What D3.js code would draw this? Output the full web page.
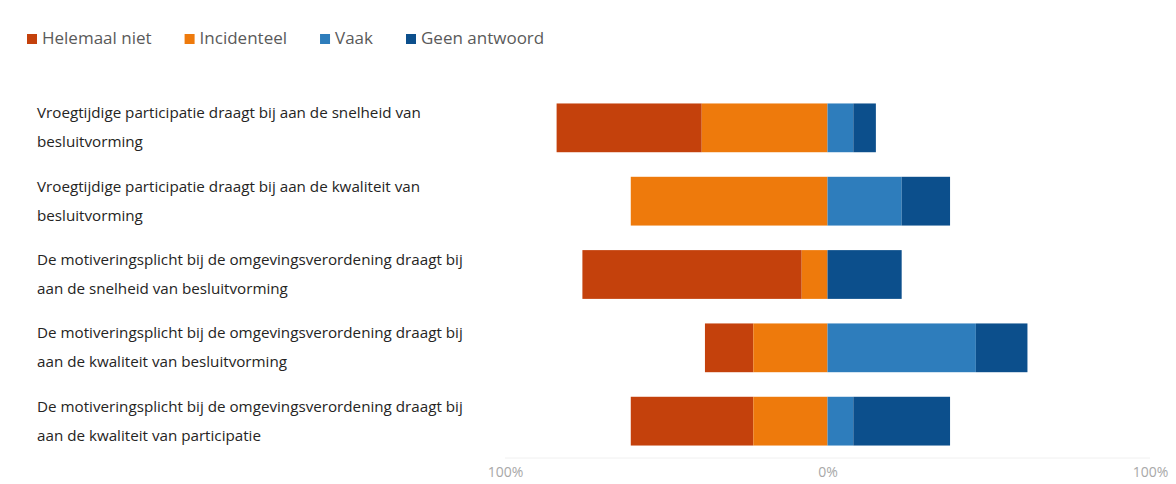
<!DOCTYPE html>
<html><head><meta charset="utf-8">
<script src="https://cdn.jsdelivr.net/npm/d3@7"></script>
<style>body{margin:0;background:#fff;}svg{display:block;font-family:"Open Sans",sans-serif;}</style>
</head><body><svg id="c" width="1176" height="484"></svg>
<script>
const categories = [
  "Vroegtijdige participatie draagt bij aan de snelheid van besluitvorming",
  "Vroegtijdige participatie draagt bij aan de kwaliteit van besluitvorming",
  "De motiveringsplicht bij de omgevingsverordening draagt bij aan de snelheid van besluitvorming",
  "De motiveringsplicht bij de omgevingsverordening draagt bij aan de kwaliteit van besluitvorming",
  "De motiveringsplicht bij de omgevingsverordening draagt bij aan de kwaliteit van participatie"
];
const seriesNames = ["Helemaal niet","Incidenteel","Vaak","Geen antwoord"];
const helemaalNiet = [45, 0, 68, 15, 38];
const incidenteel  = [39, 61, 8, 23, 23];
const vaak         = [8, 23, 0, 46, 8];
const geenAntwoord = [7, 15, 23, 16, 30];
const tickValues = [-100, 0, 100];
const tickLabels = ["100%","0%","100%"];
const colors = ["#C4410C","#EE7A0C","#2E7DBC","#0C4F8C"];

const svg = d3.select("#c");
const x = d3.scaleLinear().domain([-100,100]).range([505,1150]);
const y = d3.scaleBand().domain(categories).range([91,458]).paddingInner(0.335).paddingOuter(0.17);

// legend
const leg = svg.append("g");
let lx = 27;
seriesNames.forEach((n,i)=>{
  const g = leg.append("g").attr("transform",`translate(${lx},0)`);
  g.append("rect").attr("x",0).attr("y",34).attr("width",10).attr("height",10).attr("fill",colors[i]);
  const t = g.append("text").attr("x",15).attr("y",44).attr("font-size",17).attr("fill","#5a5a5a").text(n);
  lx += 15 + t.node().getComputedTextLength() + 33;
});

// stacked segments
const rows = categories.map((c,i)=>{
  const segs = [];
  segs.push({k:0, x0:-(helemaalNiet[i]+incidenteel[i]), x1:-incidenteel[i]});
  segs.push({k:1, x0:-incidenteel[i], x1:0});
  segs.push({k:2, x0:0, x1:vaak[i]});
  segs.push({k:3, x0:vaak[i], x1:vaak[i]+geenAntwoord[i]});
  return {c, segs};
});
// faint axis line
svg.append("line").attr("x1",x(-100)).attr("x2",x(100)).attr("y1",458).attr("y2",458).attr("stroke","#f0f0f0");
svg.selectAll("g.row").data(rows).join("g").attr("class","row")
  .selectAll("rect").data(d=>d.segs.filter(s=>s.x1>s.x0).map(s=>({...s,c:d.c}))).join("rect")
  .attr("x",s=>x(s.x0)).attr("width",s=>x(s.x1)-x(s.x0))
  .attr("y",s=>y(s.c)).attr("height",y.bandwidth()).attr("fill",s=>colors[s.k]);

// category labels with wrapping
const fs = 15.2;
categories.forEach(c=>{
  const t = svg.append("text").attr("x",37).attr("font-size",fs).attr("fill","#252423");
  const words = c.split(" ");
  let lines=[], cur=[];
  const probe = svg.append("text").attr("font-size",fs);
  words.forEach(w=>{
    const test=[...cur,w].join(" ");
    probe.text(test);
    if(probe.node().getComputedTextLength()>445 && cur.length){lines.push(cur.join(" "));cur=[w];}
    else cur.push(w);
  });
  lines.push(cur.join(" "));
  probe.remove();
  const y0 = y(c)+y.bandwidth()/2 - 14.5 + 5;
  lines.forEach((l,i)=>t.append("tspan").attr("x",37).attr("y",y0+i*29).text(l));
});

// x axis
const ax = d3.axisBottom(x).tickValues(tickValues).tickFormat((d,i)=>tickLabels[i]).tickSize(0);
const axg = svg.append("g").attr("transform","translate(0,464)").call(ax);
axg.select(".domain").remove();
axg.selectAll("text").attr("font-size",14).attr("fill","#a8a8a8").attr("font-family","'Open Sans',sans-serif");
</script></body></html>
